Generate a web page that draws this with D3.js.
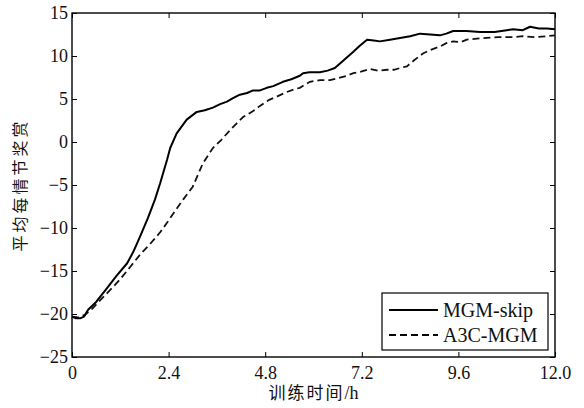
<!DOCTYPE html>
<html>
<head>
<meta charset="utf-8">
<script src="https://cdn.jsdelivr.net/npm/d3@7"></script>
<style>
  body { margin: 0; background: #fff; }
  svg { display: block; }
</style>
</head>
<body>
<div id="chart"></div>
<script>
// training time (h) and average reward per episode
var skipTime = [0, 0.1, 0.2, 0.3, 0.4, 0.6, 0.87, 1.1, 1.37, 1.52, 1.69, 1.89, 2.06, 2.19, 2.36, 2.44, 2.6, 2.85, 3.1, 3.3,
    3.5, 3.68, 3.85, 4.0, 4.17, 4.35, 4.5, 4.67, 4.84, 5.0, 5.24, 5.45, 5.66, 5.74, 5.9, 6.16, 6.35, 6.53, 6.75, 6.99,
    7.15, 7.33, 7.5, 7.65, 7.9, 8.15, 8.4, 8.65, 8.9, 9.14, 9.3, 9.47, 9.8, 10.14, 10.5, 10.8, 10.96, 11.2, 11.38, 11.6,
    11.8, 12];
var skipReward = [-20.3, -20.5, -20.5, -20.3, -19.5, -18.6, -17, -15.6, -14.1, -12.8, -11.0, -8.8, -6.7, -4.8, -2.1, -0.7, 1.0, 2.6, 3.5, 3.7,
    4.0, 4.4, 4.7, 5.1, 5.5, 5.7, 6.0, 6.0, 6.3, 6.5, 7.0, 7.3, 7.7, 8.0, 8.1, 8.1, 8.3, 8.6, 9.5, 10.5,
    11.2, 11.9, 11.8, 11.7, 11.9, 12.1, 12.3, 12.6, 12.5, 12.4, 12.6, 12.9, 12.9, 12.8, 12.8, 13.0, 13.1, 13.0, 13.4, 13.2,
    13.2, 13.1];

var a3cTime = [0, 0.15, 0.32, 0.5, 0.7, 0.95, 1.19, 1.45, 1.69, 1.95, 2.19, 2.36, 2.55, 2.76, 3.0, 3.25, 3.5, 3.7, 3.93, 4.1,
    4.25, 4.5, 4.67, 4.9, 5.1, 5.33, 5.5, 5.66, 5.91, 6.16, 6.41, 6.6, 6.83, 6.99, 7.2, 7.4, 7.6, 7.83, 8.0, 8.15,
    8.32, 8.5, 8.72, 8.9, 9.14, 9.3, 9.47, 9.65, 9.81, 10.0, 10.3, 10.6, 10.96, 11.2, 11.5, 11.8, 12];
var a3cReward = [-20.3, -20.4, -20.1, -19.4, -18.4, -17.2, -16.0, -14.5, -13.1, -11.8, -10.5, -9.4, -8.1, -6.7, -5.2, -2.5, -0.7, 0.2, 1.4, 2.2,
    2.9, 3.6, 4.2, 4.9, 5.3, 5.8, 6.1, 6.3, 7.0, 7.2, 7.2, 7.4, 7.7, 8.0, 8.2, 8.5, 8.3, 8.4, 8.4, 8.6,
    8.8, 9.5, 10.3, 10.7, 11.1, 11.5, 11.7, 11.6, 11.9, 12.0, 12.1, 12.2, 12.2, 12.3, 12.2, 12.3, 12.4];

var seriesNames = ["MGM-skip", "A3C-MGM"];
var xTicks = [0, 2.4, 4.8, 7.2, 9.6, 12.0];
var xTickLabels = ["0", "2.4", "4.8", "7.2", "9.6", "12.0"];
var yTicks = [-25, -20, -15, -10, -5, 0, 5, 10, 15];

var width = 584, height = 408;
var margin = {top: 13, right: 29, bottom: 51, left: 72};
var w = width - margin.left - margin.right,
    h = height - margin.top - margin.bottom;

var serif = "'Liberation Serif', 'Times New Roman', serif",
    cjk = "'Noto Sans CJK SC', sans-serif";

var svg = d3.select("#chart").append("svg")
    .attr("width", width)
    .attr("height", height);

var g = svg.append("g")
    .attr("transform", "translate(" + margin.left + "," + margin.top + ")");

var x = d3.scaleLinear().domain([0, 12]).range([0, w]);
var y = d3.scaleLinear().domain([-25, 15]).range([h, 0]);

// axes, ticks pointing inward on all four sides
var xAxis = g.append("g")
    .attr("transform", "translate(0," + h + ")")
    .call(d3.axisBottom(x).tickValues(xTicks).tickSizeInner(-5).tickSizeOuter(0).tickPadding(8)
        .tickFormat(function (d, i) { return xTickLabels[i]; }));

var yAxis = g.append("g")
    .call(d3.axisLeft(y).tickValues(yTicks).tickSizeInner(-5).tickSizeOuter(0).tickPadding(4));

g.append("g")
    .call(d3.axisTop(x).tickValues(xTicks).tickSizeInner(-5).tickSizeOuter(0).tickFormat(""));

g.append("g")
    .attr("transform", "translate(" + w + ",0)")
    .call(d3.axisRight(y).tickValues(yTicks).tickSizeInner(-5).tickSizeOuter(0).tickFormat(""));

g.selectAll(".domain").remove();
g.selectAll(".tick line").attr("stroke", "#000").attr("stroke-width", 1);
g.selectAll(".tick text")
    .attr("fill", "#111")
    .style("font-family", serif)
    .style("font-size", "18px");
xAxis.selectAll(".tick text").attr("dy", "0.75em");

g.append("rect")
    .attr("width", w)
    .attr("height", h)
    .attr("fill", "none")
    .attr("stroke", "#000")
    .attr("stroke-width", 1.4);

// curves
var line = d3.line()
    .x(function (d) { return x(d[0]); })
    .y(function (d) { return y(d[1]); });

var skipData = d3.zip(skipTime, skipReward),
    a3cData = d3.zip(a3cTime, a3cReward);

g.append("path")
    .datum(a3cData)
    .attr("fill", "none")
    .attr("stroke", "#111")
    .attr("stroke-width", 1.8)
    .attr("stroke-dasharray", "7,4")
    .attr("d", line);

g.append("path")
    .datum(skipData)
    .attr("fill", "none")
    .attr("stroke", "#000")
    .attr("stroke-width", 2)
    .attr("stroke-linejoin", "round")
    .attr("d", line);

// legend
var legend = svg.append("g")
    .attr("transform", "translate(382,293)");

legend.append("rect")
    .attr("width", 166)
    .attr("height", 57)
    .attr("fill", "#fff")
    .attr("stroke", "#000")
    .attr("stroke-width", 1.2);

var items = legend.selectAll(".item")
    .data(seriesNames)
    .enter().append("g")
    .attr("transform", function (d, i) { return "translate(0," + (17 + i * 25) + ")"; });

items.append("line")
    .attr("x1", 7)
    .attr("x2", 56)
    .attr("stroke", "#000")
    .attr("stroke-width", 1.8)
    .attr("stroke-dasharray", function (d, i) { return i === 1 ? "7,4" : null; });

items.append("text")
    .attr("x", 61)
    .attr("dy", "0.35em")
    .style("font-family", serif)
    .style("font-size", "20px")
    .attr("fill", "#111")
    .text(function (d) { return d; });

// axis titles
var xTitle = svg.append("text")
    .attr("x", margin.left + w / 2)
    .attr("y", 399)
    .attr("text-anchor", "middle")
    .attr("fill", "#111");
xTitle.append("tspan")
    .style("font-family", cjk)
    .style("font-size", "17px")
    .style("letter-spacing", "2px")
    .text("训练时间");
xTitle.append("tspan")
    .style("font-family", serif)
    .style("font-size", "18px")
    .text("/h");

svg.append("text")
    .attr("transform", "translate(26," + (margin.top + h / 2) + ") rotate(-90)")
    .attr("text-anchor", "middle")
    .style("font-family", cjk)
    .style("font-size", "16px")
    .style("letter-spacing", "3px")
    .attr("fill", "#111")
    .text("平均每情节奖赏");
</script>
</body>
</html>
